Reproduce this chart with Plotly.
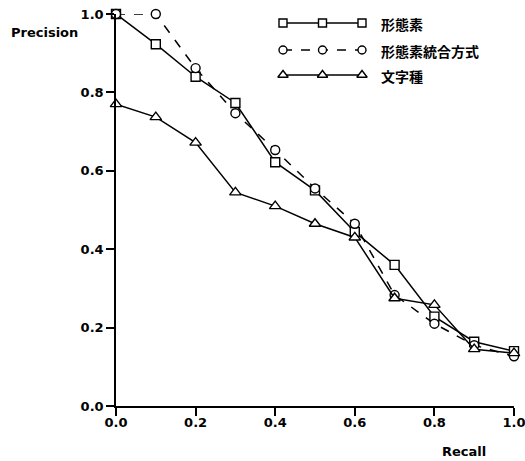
import plotly.graph_objects as go

recall = [0.0, 0.1, 0.2, 0.3, 0.4, 0.5, 0.6, 0.7, 0.8, 0.9, 1.0]
morph = [1.0, 0.923, 0.84, 0.773, 0.622, 0.55, 0.444, 0.36, 0.228, 0.164, 0.14]
morph_int = [1.0, 1.0, 0.862, 0.747, 0.653, 0.555, 0.465, 0.283, 0.21, 0.155, 0.127]
chartype = [0.77, 0.737, 0.672, 0.545, 0.51, 0.465, 0.43, 0.275, 0.258, 0.145, 0.135]

names = ["形態素", "形態素統合方式", "文字種"]
symbols = ["square", "circle", "triangle-up"]
dashes = ["solid", "dash", "solid"]
sizes = [9, 9, 10]
series = [morph, morph_int, chartype]

tick_vals = [0.0, 0.2, 0.4, 0.6, 0.8, 1.0]
tick_text = ["0.0", "0.2", "0.4", "0.6", "0.8", "1.0"]

W, H = 525, 461
L, R, T, B = 116, 11, 14, 55

fig = go.Figure()
for ys, nm, sym, ds, sz in zip(series, names, symbols, dashes, sizes):
    fig.add_trace(go.Scatter(
        x=recall, y=ys, name=nm, mode="lines+markers",
        line=dict(color="black", width=1.5, dash=ds),
        marker=dict(symbol=sym, size=sz, color="white", line=dict(width=1.4, color="black")),
        cliponaxis=False, showlegend=False,
    ))

# custom legend drawn on an overlay axis in pixel units
leg_x = [283, 322.5, 362]
leg_rows = [23, 50, 75]
for nm, sym, ds, sz, yy in zip(names, symbols, dashes, sizes, leg_rows):
    fig.add_trace(go.Scatter(
        x=leg_x, y=[yy] * 3, xaxis="x2", yaxis="y2", mode="lines+markers",
        line=dict(color="black", width=1.3, dash=ds),
        marker=dict(symbol=sym, size=sz - 1, color="white", line=dict(width=1.4, color="black")),
        cliponaxis=False, showlegend=False, hoverinfo="skip",
    ))
    fig.add_annotation(x=379, y=yy + 1, xref="x2", yref="y2", text=nm, showarrow=False,
                       xanchor="left", yanchor="middle",
                       font=dict(family="Noto Sans CJK JP", size=14, color="black", weight=700))

axis_font = dict(family="DejaVu Sans", size=13, color="black", weight=700)
common = dict(range=[0, 1], tickvals=tick_vals, ticktext=tick_text, showgrid=False, zeroline=False,
              showline=True, linecolor="black", linewidth=1.5, ticks="outside", ticklen=8,
              tickwidth=1.5, tickcolor="black", tickfont=axis_font, ticklabeloverflow="allow",
              automargin=False)
fig.update_layout(
    width=W, height=H,
    margin=dict(l=L, r=R, t=T, b=B),
    paper_bgcolor="white", plot_bgcolor="white",
    xaxis=dict(common, ticklabelstandoff=-4), yaxis=common,
    xaxis2=dict(overlaying="x", range=[L, W - R], visible=False, fixedrange=True, automargin=False),
    yaxis2=dict(overlaying="y", range=[H - B, T], visible=False, fixedrange=True, automargin=False),
)
fig.add_annotation(x=9, y=33, xref="paper", yref="paper", text="Precision", showarrow=False,
                   font=dict(family="DejaVu Sans", size=13, color="black", weight=700),
                   xanchor="left", yanchor="middle")
fig.add_annotation(x=464, y=460, xref="paper", yref="paper", text="Recall", showarrow=False,
                   font=dict(family="DejaVu Sans", size=13, color="black", weight=700),
                   xanchor="center", yanchor="bottom", borderpad=0)
# convert pixel positions of the two axis-title annotations into paper coordinates
pw, ph = W - L - R, H - T - B
for a in fig.layout.annotations[-2:]:
    a.x = (a.x - L) / pw
    a.y = (H - B - a.y) / ph

fig.write_html("out.html", config={"displayModeBar": False},
               post_script="document.body.style.margin='0';document.body.style.overflow='hidden';")
